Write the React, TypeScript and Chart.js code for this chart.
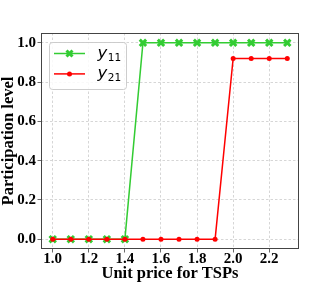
import React, { useEffect, useRef } from "react";
import { Chart, registerables } from "chart.js";
Chart.register(...registerables);

const prices = [1.0, 1.1, 1.2, 1.3, 1.4, 1.5, 1.6, 1.7, 1.8, 1.9, 2.0, 2.1, 2.2, 2.3];
const y11 = [0, 0, 0, 0, 0, 1, 1, 1, 1, 1, 1, 1, 1, 1];
const y21 = [0, 0, 0, 0, 0, 0, 0, 0, 0, 0, 0.92, 0.92, 0.92, 0.92];
const xTicks = [1.0, 1.2, 1.4, 1.6, 1.8, 2.0, 2.2];
const yTicks = [0.0, 0.2, 0.4, 0.6, 0.8, 1.0];
const legendSubs = ["11", "21"];
const xTitle = "Unit price for TSPs";
const yTitle = "Participation level";

const GREEN = "#33cc33";
const RED = "#ff0000";
const SERIF = '"Liberation Serif", "Times New Roman", serif';

const framePlugin = {
  id: "frame",
  afterDatasetsDraw(chart: any) {
    const { ctx, chartArea: a } = chart;
    ctx.save();
    ctx.strokeStyle = "#444";
    ctx.lineWidth = 1;
    ctx.strokeRect(Math.round(a.left) + 0.5, Math.round(a.top) + 0.5, Math.round(a.right - a.left) - 1, Math.round(a.bottom - a.top) - 1);
    ctx.restore();
  },
};

const legendPlugin = {
  id: "innerLegend",
  afterDatasetsDraw(chart: any) {
    const { ctx } = chart;
    ctx.save();
    const bx = 49.5, by = 42.5, bw = 77, bh = 47, r = 3;
    ctx.beginPath();
    ctx.moveTo(bx + r, by);
    ctx.lineTo(bx + bw - r, by);
    ctx.arcTo(bx + bw, by, bx + bw, by + r, r);
    ctx.lineTo(bx + bw, by + bh - r);
    ctx.arcTo(bx + bw, by + bh, bx + bw - r, by + bh, r);
    ctx.lineTo(bx + r, by + bh);
    ctx.arcTo(bx, by + bh, bx, by + bh - r, r);
    ctx.lineTo(bx, by + r);
    ctx.arcTo(bx, by, bx + r, by, r);
    ctx.closePath();
    ctx.fillStyle = "rgba(255,255,255,0.85)";
    ctx.fill();
    ctx.strokeStyle = "rgba(200,200,200,0.9)";
    ctx.lineWidth = 1;
    ctx.stroke();

    const colors = [GREEN, RED];
    legendSubs.forEach((sub, i) => {
      const y = 53.5 + i * 20.4;
      ctx.strokeStyle = colors[i];
      ctx.lineWidth = 1.5;
      ctx.beginPath();
      ctx.moveTo(54, y);
      ctx.lineTo(85, y);
      ctx.stroke();
      const cx = 69.5;
      if (i === 0) {
        ctx.lineWidth = 3;
        ctx.beginPath();
        ctx.moveTo(cx - 3, y - 3);
        ctx.lineTo(cx + 3, y + 3);
        ctx.moveTo(cx - 3, y + 3);
        ctx.lineTo(cx + 3, y - 3);
        ctx.stroke();
      } else {
        ctx.fillStyle = RED;
        ctx.beginPath();
        ctx.arc(cx, y, 2.5, 0, Math.PI * 2);
        ctx.fill();
      }
      ctx.fillStyle = "#000";
      ctx.textBaseline = "alphabetic";
      ctx.textAlign = "left";
      ctx.font = 'italic 16.5px "DejaVu Sans"';
      ctx.fillText("y", 97.5, y + 4.5);
      const w = ctx.measureText("y").width;
      ctx.font = '10.5px "DejaVu Sans"';
      ctx.fillText(sub, 97.5 + w + 0.5, y + 7.3);
    });
    ctx.restore();
  },
};

export default function App() {
  const ref = useRef<HTMLCanvasElement>(null);
  useEffect(() => {
    const canvas = ref.current!;
    const chart = new Chart(canvas, {
      type: "line",
      data: {
        datasets: [
          {
            label: "y21",
            data: prices.map((x, i) => ({ x, y: y21[i] })),
            borderColor: RED,
            backgroundColor: RED,
            borderWidth: 1.5,
            pointStyle: "circle",
            pointRadius: 2.5,
            pointBorderWidth: 0,
            pointBackgroundColor: RED,
            order: 0,
          },
          {
            label: "y11",
            data: prices.map((x, i) => ({ x, y: y11[i] })),
            borderColor: GREEN,
            backgroundColor: GREEN,
            borderWidth: 1.5,
            pointStyle: "crossRot",
            pointRadius: 4.5,
            pointBorderWidth: 3,
            pointBorderColor: GREEN,
            order: 1,
          },
        ],
      },
      options: {
        animation: false,
        responsive: false,
        maintainAspectRatio: false,
        layout: { padding: { top: 33, right: 33, left: 0, bottom: 0 } },
        plugins: { legend: { display: false }, tooltip: { enabled: false } },
        elements: { line: { tension: 0 } },
        scales: {
          x: {
            type: "linear",
            min: 0.935,
            max: 2.365,
            afterBuildTicks: (s: any) => { s.ticks = xTicks.map((v) => ({ value: v })); },
            afterFit: (s: any) => { s.height = 36; },
            ticks: {
              color: "#000",
              font: { family: SERIF, size: 15, weight: "bold", lineHeight: 1.0 },
              padding: -1.1,
              maxRotation: 0,
              autoSkip: false,
              callback: (v: any) => Number(v).toFixed(1),
            },
            grid: { color: "#cccccc", tickColor: "#444", tickLength: 3.5, lineWidth: 0.8 },
            border: { display: false, dash: [2.5, 2] },
            title: {
              display: true,
              text: xTitle,
              color: "#000",
              font: { family: SERIF, size: 16.5, weight: "bold", lineHeight: 1.2 },
              padding: { top: 0, bottom: 1 },
            },
          },
          y: {
            type: "linear",
            min: -0.05,
            max: 1.05,
            afterBuildTicks: (s: any) => { s.ticks = yTicks.map((v) => ({ value: v })); },
            afterFit: (s: any) => { s.width = 41; },
            ticks: {
              color: "#000",
              font: { family: SERIF, size: 15, weight: "bold", lineHeight: 1.0 },
              padding: 1.5,
              callback: (v: any) => Number(v).toFixed(1),
            },
            grid: { color: "#cccccc", tickColor: "#444", tickLength: 3.5, lineWidth: 0.8 },
            border: { display: false, dash: [2.5, 2] },
            title: {
              display: true,
              text: yTitle,
              color: "#000",
              font: { family: SERIF, size: 16.5, weight: "bold", lineHeight: 1.1 },
              padding: { top: 0, bottom: 0 },
            },
          },
        },
      },
      plugins: [framePlugin, legendPlugin],
    } as any);
    return () => chart.destroy();
  }, []);
  return (
    <div style={{ position: "fixed", left: 0, top: 0, width: 332, height: 285, background: "#fff" }}>
      <canvas ref={ref} width={332} height={285} style={{ display: "block" }} />
    </div>
  );
}
